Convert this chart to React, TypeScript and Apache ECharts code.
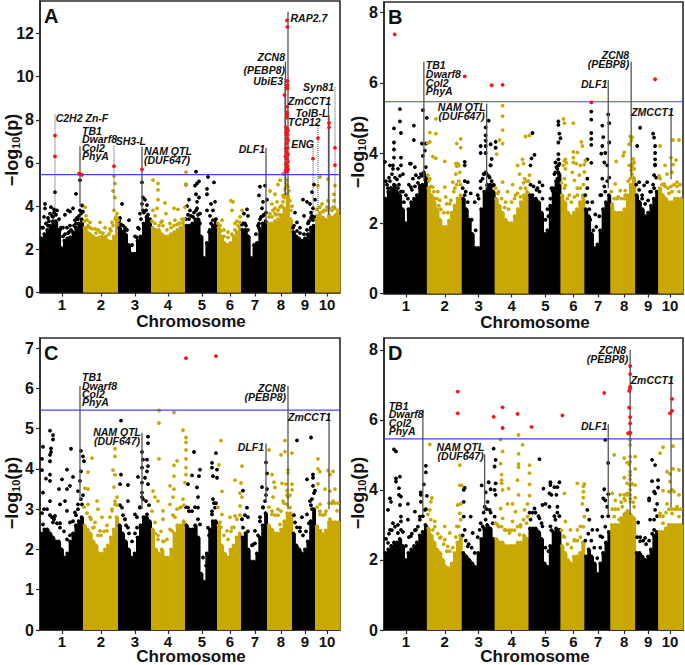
import React, { useEffect, useRef } from "react";
import * as echarts from "echarts";

const FONT = "'Liberation Sans', Arial, sans-serif";
const BLACK = "#000000";
const GOLD = "#c9a804";
const RED = "#ff1010";
const BLUE = "#3a3af0";

const chromBounds = [0, 43, 78, 111, 145, 177, 201, 227, 252, 275, 299.5];
const chromTicks = [22, 61, 95, 128, 162, 190, 215, 241, 265, 287];
const chromNames = ["1", "2", "3", "4", "5", "6", "7", "8", "9", "10"];
const threshold = 5.46;

// solid part of the cloud of points, per chromosome
const massA = [
  [2.5, 2.7, 2.9, 3.1, 3.3, 3.3, 2.9, 2.05, 2.4, 2.5, 2.55, 2.8, 3.0, 3.2, 3.4],
  [3.0, 2.8, 2.7, 2.6, 2.5, 2.55, 2.6, 2.5, 2.4, 2.35, 2.6, 3.3],
  [3.0, 2.8, 2.7, 2.2, 1.8, 1.8, 2.4, 2.6, 3.2, 3.5, 3.2],
  [3.0, 2.9, 2.9, 2.7, 2.6, 2.6, 2.7, 2.8, 2.9, 3.0, 3.1],
  [3.1, 3.1, 3.2, 3.4, 3.4, 2.6, 1.6, 2.3, 2.9, 3.1, 3.2],
  [3.0, 2.6, 2.3, 2.2, 2.3, 2.6, 2.8, 3.0],
  [2.9, 2.9, 2.6, 1.6, 2.2, 2.3, 2.9, 3.2, 3.3],
  [3.2, 3.2, 3.3, 3.4, 3.6, 3.9, 4.5, 3.4],
  [2.8, 2.6, 2.5, 2.4, 2.5, 2.7, 3.0, 3.1],
  [3.6, 3.6, 3.5, 3.4, 3.6, 3.5, 3.6, 3.6],
];
const massB = [
  [2.7, 2.9, 3.0, 3.1, 2.9, 2.8, 2.4, 2.0, 2.4, 2.6, 2.7, 2.8, 3.0, 3.1, 3.3],
  [3.0, 2.8, 2.6, 2.4, 2.1, 1.9, 1.9, 2.1, 2.3, 2.5, 2.7, 2.8],
  [2.7, 2.4, 2.1, 1.7, 1.3, 1.3, 2.4, 2.9, 3.1, 3.1, 2.9],
  [2.7, 2.5, 2.3, 2.1, 2.0, 2.0, 2.2, 2.4, 2.6, 2.8, 2.9],
  [2.8, 2.7, 2.7, 2.6, 2.3, 1.7, 1.8, 2.5, 3.0, 3.2, 3.4],
  [2.8, 2.6, 2.3, 2.2, 2.3, 2.4, 2.6, 2.8],
  [2.4, 2.2, 1.7, 1.3, 1.4, 1.8, 2.4, 2.6, 2.8],
  [2.5, 2.3, 2.3, 2.3, 2.4, 2.8, 3.1, 3.3],
  [2.8, 2.6, 2.4, 2.2, 2.3, 2.5, 2.7, 2.9],
  [3.0, 2.8, 2.7, 2.6, 2.6, 2.7, 2.7, 2.7],
];
const massC = [
  [2.4, 2.5, 2.5, 2.4, 2.3, 2.2, 2.2, 2.0, 1.8, 1.9, 2.2, 2.4, 2.6, 2.7, 2.8],
  [2.6, 2.5, 2.4, 2.2, 2.1, 1.9, 1.9, 2.0, 2.1, 2.3, 2.5, 2.8],
  [2.6, 2.4, 2.2, 2.0, 1.8, 1.9, 2.3, 2.6, 2.8, 2.8, 2.7],
  [2.5, 2.0, 1.9, 2.0, 1.8, 1.8, 2.0, 2.4, 2.6, 2.6, 2.7],
  [2.6, 2.5, 2.5, 2.6, 2.3, 1.4, 1.2, 1.9, 2.5, 2.7, 2.7],
  [2.6, 2.1, 1.9, 1.8, 2.0, 2.1, 2.3, 2.4],
  [2.3, 2.4, 2.0, 1.7, 1.7, 1.9, 2.3, 2.6, 2.9],
  [2.6, 2.5, 2.4, 2.4, 2.5, 2.7, 2.9, 2.9],
  [2.4, 2.1, 2.0, 1.9, 2.0, 2.2, 2.7, 3.0],
  [2.6, 2.5, 2.4, 2.5, 2.7, 2.7, 2.7, 2.7],
];
const massD = [
  [2.2, 2.3, 2.4, 2.5, 2.5, 2.6, 2.4, 2.0, 2.2, 2.3, 2.4, 2.5, 2.7, 2.8, 3.0],
  [2.9, 2.7, 2.5, 2.3, 2.2, 2.0, 1.8, 1.8, 1.9, 2.2, 2.5, 2.7],
  [2.2, 2.1, 2.0, 1.9, 1.8, 2.2, 2.6, 2.9, 3.0, 2.9, 2.6],
  [2.6, 2.5, 2.5, 2.4, 2.4, 2.4, 2.4, 2.5, 2.5, 2.7, 2.6],
  [2.9, 2.9, 2.9, 2.8, 2.6, 1.9, 1.8, 2.4, 2.8, 2.9, 2.8],
  [2.4, 2.2, 2.0, 1.9, 2.1, 2.1, 2.2, 2.5],
  [2.1, 2.3, 2.1, 1.9, 1.6, 1.9, 2.2, 2.5, 2.8],
  [3.0, 3.0, 3.0, 3.2, 3.3, 3.4, 3.3, 3.2],
  [2.2, 2.2, 2.1, 2.0, 2.1, 2.3, 2.7, 2.8],
  [2.8, 2.8, 2.9, 3.0, 3.0, 3.0, 3.0, 3.0],
];

const blackA = [
  [5, 4.1], [5, 3.9], [4, 3.5], [11, 3.95], [14, 3.85], [17, 3.8], [15, 4.65], [36, 4.57], [25, 3.6], [28, 3.8], [33, 3.9], [30, 3.75], [42, 4.03], [40, 5.2], [23, 3.0], [27, 3], [30, 3.1], [35, 3.35], [38, 3.4], [25, 2.7], [28, 2.75], [40, 3.8], [10, 3.65], [13, 3.5], [3, 3.0], [8, 3.1], [20, 2.9],
  [82, 4.1], [80, 3.45], [89, 3.35], [103, 4.4], [102, 5.1], [105, 4.3], [102, 4.1], [107, 4.05], [100, 3.65], [103, 3.8], [107, 3.5], [98, 3.0], [85, 3.0], [97, 2.55], [87, 2.9], [84, 2.85], [109, 3.3],
  [146, 5], [156, 5.6], [155, 4.95], [159, 5.15], [157, 5.05], [168, 5.35], [174, 5.1], [167, 4.8], [167, 4.55], [156, 4.55], [159, 4.4], [149, 4.3], [147, 4], [150, 3.8], [157, 4.2], [157, 3.9], [160, 3.65], [167, 3.8], [175, 4.2], [171, 4.1], [173, 3.8], [170, 3.55], [175, 3.35], [153, 3.5],
  [225, 4.95], [220, 4.9], [219, 4.5], [227, 4.3], [223, 4.2], [207, 3.85], [204, 3.65], [208, 3.55], [222, 3.9], [223, 3.55], [203, 3.2], [220, 3.4], [206, 3.1], [219, 3.0],
  [255, 3.7], [263, 4.3], [267, 4.2], [274, 5], [272, 4.65], [275, 4.3], [270, 4.1], [273, 3.9], [272, 3.55], [273, 3.35], [264, 3.55], [257, 3.25], [268, 3.2], [260, 3], [271, 3.7], [253, 3.0],
];
const fringeBlackA = [
  [2, 3.0], [6, 3.2], [9, 3.3], [12, 3.55], [16, 3.6], [19, 3.4], [21, 3.0], [23, 2.6], [31, 2.9], [34, 3.1], [36, 3.2], [39, 3.55], [41, 3.65], [43, 3.75], [8, 3.45], [14, 3.7], [29, 2.8], [37, 3.45],
  [79, 3.3], [81, 3.15], [83, 3.1], [86, 2.9], [92, 2.2], [95, 2.6], [99, 2.95], [101, 3.4], [104, 3.7], [106, 3.8], [108, 3.6], [110, 3.4],
  [146, 3.4], [148, 3.6], [151, 3.55], [154, 3.7], [156, 3.8], [158, 3.6], [160, 3.2], [169, 2.8], [171, 3.2], [173, 3.35], [176, 3.4], [149, 3.4],
  [202, 3.15], [205, 3.2], [208, 2.9], [216, 2.7], [219, 3.2], [221, 3.5], [224, 3.6], [226, 3.7], [218, 3.1],
  [254, 3.1], [257, 2.85], [260, 2.75], [264, 2.7], [267, 2.9], [269, 3.3], [271, 3.45], [274, 3.5],
];
const goldA = [
  [45, 3.95], [46, 3.55], [47, 3.35], [50, 3.25], [60, 3.25], [65, 3], [55, 2.95], [74, 5.4], [75, 5.05], [73, 4.7], [75, 4.4], [74, 3.8], [77, 3.65], [75, 3.4], [72, 3.25], [78, 3.35], [50, 3.0], [70, 2.95],
  [113, 5.2], [118, 5.05], [118, 4.75], [113, 3.8], [118, 4.3], [117, 3.9], [125, 4.15], [115, 3.55], [134, 3.9], [138, 3.85], [146, 5.57], [146, 5], [145, 3.95], [126, 3.65], [130, 3.2], [135, 3.35], [142, 3.4], [122, 3.3], [139, 3.2],
  [191, 4.25], [193, 4.2], [192, 3.8], [202, 3.8], [182, 3.35], [180, 3.1], [195, 3.2], [200, 3.5], [184, 2.9], [188, 2.8], [197, 3.3],
  [230, 4.7], [235, 4.55], [240, 5.2], [238, 5], [232, 4.1], [237, 4.2], [243, 4.5], [247, 5.2], [247, 4.55], [248, 4.9], [250, 4.25], [252, 4], [233, 3.8], [240, 3.95], [230, 3.65], [243, 5.5], [246, 5.6], [235, 3.9], [242, 4.0], [236, 3.6],
  [280, 5.35], [278, 4.95], [288, 5.25], [295, 4.95], [294, 4.55], [294, 4.25], [288, 4.25], [287, 3.95], [282, 4.1], [293, 3.95], [297, 3.65], [280, 3.7], [284, 3.8],
];
const fringeGoldA = [
  [44, 3.3], [48, 3.1], [52, 2.95], [56, 2.75], [60, 2.8], [63, 2.75], [66, 2.6], [69, 2.7], [71, 2.85], [73, 3.1], [76, 3.5], [77, 3.3], [47, 3.0], [58, 2.9],
  [112, 3.3], [115, 3.2], [119, 3.1], [123, 3.1], [127, 2.9], [131, 3.0], [134, 3.1], [137, 3.15], [140, 3.2], [143, 3.25], [144, 3.4], [121, 3.25],
  [178, 3.2], [181, 2.85], [184, 2.6], [188, 2.55], [192, 2.7], [195, 2.9], [198, 3.1], [200, 3.25],
  [229, 3.5], [232, 3.5], [235, 3.65], [238, 3.8], [241, 4.0], [243, 4.2], [245, 4.8], [247, 5.0], [249, 4.7], [251, 3.8], [239, 3.6], [244, 4.4],
  [277, 3.85], [280, 3.95], [283, 3.75], [286, 3.8], [289, 3.9], [292, 3.8], [295, 3.9], [298, 3.8],
];
const redA = [
  [15, 7.27], [15, 6.3], [247, 12.6], [247.5, 12.3], [247.5, 9.8], [247.5, 9.6], [247.5, 9.45], [244.5, 9.15], [247, 8.6], [247, 8.35], [247, 8.25], [247, 8.1],
  [246, 7.65], [247, 7.6], [248, 7.5], [246, 7.4], [247.5, 7.3], [247, 7.15], [248, 7.05], [246.5, 6.9], [246, 6.65], [247.5, 6.7], [246.5, 6.5], [248, 6.4], [245.5, 6.3], [247, 6.2], [248, 6.05], [246, 5.95], [247.5, 5.85], [246.5, 5.75], [248, 5.7], [245.5, 5.62], [247, 5.6],
  [39, 5.5], [42, 5.45], [41, 5.47], [74, 5.85], [102, 5.7], [273, 6.2], [278, 7.15], [289, 7.85], [289, 7.65], [295, 6.7], [295, 5.9],
];

const blackB = [
  [16, 5.25], [16, 4.9], [10, 4.7], [17, 4.57], [30, 4.78], [30, 4.37], [39, 5.22], [43, 5], [10, 4.3], [10, 4.1], [10, 3.87], [17, 3.87], [1, 3.75], [6, 3.65], [27, 3.7], [31, 3.6], [38, 4.27], [42, 4.27], [41, 4.07], [39, 3.92], [9, 3.65], [17, 3.65],
  [2, 3.2], [6, 3.2], [9, 3.55], [14, 3.55], [16, 3.35], [19, 3.4], [26, 3.7], [29, 3.27], [32, 3.37], [37, 3.4], [41, 3.37], [4, 3], [11, 3.07], [14, 3], [27, 3.03], [36, 3.07], [22, 2.8], [12, 2.7], [19, 2.9],
  [105, 4.92], [102, 4.73], [102, 4.5], [102, 4.35], [97, 4.2], [102, 4.2], [112, 4.32], [107, 4.25], [112, 4.15], [97, 4], [102, 4], [108, 3.83], [107, 3.65], [81, 3.75], [81, 3.65],
  [81, 3.2], [84, 3.17], [87, 2.85], [91, 2.6], [82, 2.9], [102, 3.45], [106, 3.3], [107, 3.65], [99, 3.27], [97, 3], [94, 2.8], [110, 3.08],
  [149, 4.57], [151, 3.95], [148, 3.85], [147, 3.65], [175, 4.9], [175, 4.8], [176, 4.55], [177, 4.42], [175, 4.3], [175, 3.97], [175, 3.82], [172, 3.73], [175, 3.65],
  [156, 3.17], [159, 3.08], [154, 3], [169, 2.93], [174, 3.27], [174, 3.55], [172, 3.45], [149, 2.8], [164, 2.4], [167, 2.7],
  [208, 5.18], [208, 4.95], [208, 4.57], [208, 4.4], [208, 4.23], [204, 3.82], [219, 4.78], [220, 4.45], [225, 5.1], [226, 4.85], [226, 4.3], [219, 4.2], [222, 4], [218, 3.98], [208, 3.72], [221, 3.73],
  [204, 3.27], [204, 3], [209, 2.6], [217, 2.8], [219, 3.27], [224, 3.65], [222, 2.9], [212, 2.25], [206, 2.4],
  [257, 4.72], [254, 4.2], [270, 4.55], [271, 4.44], [272, 4.2], [272, 4], [272, 3.82], [272, 3.67],
  [256, 3.17], [261, 3.08], [264, 3.17], [271, 3.37], [272, 3.65], [259, 2.8], [267, 2.9], [256, 2.6], [271, 3],
];
const fringeBlackB = [
  [3, 3.1], [5, 3.3], [8, 3.4], [11, 3.3], [13, 3.25], [17, 2.9], [20, 2.6], [24, 2.7], [28, 2.95], [31, 3.05], [34, 3.15], [38, 3.35], [40, 3.45], [42, 3.6], [7, 3.0], [15, 3.1], [35, 3.3], [25, 3.1],
  [79, 3.0], [81, 2.8], [84, 2.6], [88, 2.1], [92, 1.8], [95, 2.7], [97, 3.2], [100, 3.4], [103, 3.4], [105, 3.35], [108, 3.2], [110, 3.1],
  [147, 3.1], [150, 3.05], [153, 2.95], [156, 2.9], [159, 2.7], [162, 2.1], [165, 2.2], [168, 3.0], [171, 3.4], [173, 3.6], [176, 3.7], [175, 3.45],
  [202, 2.8], [204, 2.6], [207, 2.1], [210, 1.8], [213, 1.9], [216, 2.2], [218, 2.8], [221, 3.05], [224, 3.2], [226, 3.3],
  [253, 3.1], [256, 2.95], [259, 2.7], [262, 2.55], [265, 2.65], [268, 2.9], [270, 3.1], [273, 3.3],
];
const goldB = [
  [52, 4.97], [46, 4.58], [52, 4.55], [46, 4.32], [44, 4.28], [49, 3.9], [52, 3.85], [61, 3.76], [77, 4.4], [73, 4.27], [77, 4.15], [72, 3.7], [73, 3.62], [75, 3.65],
  [46, 3.27], [49, 3.03], [54, 2.9], [61, 3.03], [69, 3.17], [72, 3.4], [74, 3.7], [76, 3.45], [62, 2.75], [56, 2.65], [66, 2.55], [51, 2.7], [71, 3], [44, 3.37],
  [119, 5.35], [119, 5.05], [119, 4.65], [116, 4.37], [119, 4.27], [113, 3.97], [142, 4.47], [146, 4.5], [139, 3.82], [140, 3.7], [134, 3.65],
  [119, 3.17], [115, 2.9], [129, 3.1], [136, 3.4], [146, 3.37], [124, 2.9], [132, 2.8], [141, 3.27], [142, 3], [122, 2.6], [137, 2.75],
  [180, 4.97], [181, 4.85], [190, 4.85], [198, 4.32], [199, 4.2], [190, 4.03], [194, 4.02], [190, 3.87], [182, 3.82], [181, 3.78], [190, 3.73], [193, 3.7], [201, 3.67], [202, 3.78], [183, 3.72], [180, 3.65],
  [182, 3.08], [189, 3.45], [191, 3.22], [196, 3.37], [201, 3.46], [194, 3], [186, 2.8], [181, 3.27], [197, 3.65], [182, 3.55],
  [233, 3.76], [241, 4.02], [240, 3.92], [247, 4.47], [249, 4.45], [246, 4.25], [248, 4.35], [250, 3.83], [251, 3.73], [246, 3.65], [248, 3.65], [249, 3.6],
  [232, 3.12], [237, 2.93], [242, 2.93], [247, 3.27], [251, 3.55], [249, 3.4], [234, 2.7], [241, 2.7], [229, 2.55],
  [277, 4.2], [290, 4.37], [296, 4.37], [288, 3.87], [293, 3.8], [282, 3.65], [290, 3.67],
  [277, 3.27], [281, 3.12], [289, 2.9], [286, 2.85], [296, 2.9], [294, 3.17], [277, 2.9], [284, 3.4], [289, 3.45],
];
const fringeGoldB = [
  [45, 3.2], [47, 3.05], [50, 2.9], [53, 2.7], [57, 2.4], [60, 2.3], [64, 2.3], [67, 2.65], [70, 2.9], [73, 3.1], [75, 3.2], [77, 3.1], [55, 2.5], [63, 2.55],
  [112, 3.0], [114, 2.85], [118, 2.7], [121, 2.45], [125, 2.4], [128, 2.6], [131, 2.7], [134, 2.85], [137, 3.0], [140, 3.15], [143, 3.2], [145, 3.2],
  [178, 3.15], [181, 3.0], [184, 2.7], [188, 2.6], [191, 2.75], [194, 2.8], [197, 3.0], [200, 3.1],
  [228, 2.9], [231, 2.7], [235, 2.75], [238, 2.7], [242, 2.8], [245, 3.2], [248, 3.5], [250, 3.7],
  [276, 3.35], [279, 3.1], [282, 3.05], [285, 3.0], [288, 3.05], [291, 3.1], [294, 3.05], [297, 3.1],
];
const redB = [[10.7, 7.38], [81, 6.18], [108, 5.93], [119, 5.94], [208, 5.44], [272, 6.1]];

const blackC = [
  [3, 4.55], [2, 4.25], [2, 3.97], [10, 4.95], [13, 4.84], [13, 4.73], [11, 4.51], [11, 4.42], [10, 4.35], [10, 4.19], [10, 3.86], [6, 3.76], [10, 3.7], [22, 3.74], [27, 3.98], [31, 4.5], [33, 3.8], [41, 4.45], [43, 4.31], [44, 4.19], [41, 3.94], [40, 3.7], [30, 3.58], [19, 3.5], [3, 3.41], [27, 3.5], [38, 3.45],
  [3, 2.62], [10, 3.2], [12, 2.8], [15, 2.83], [13, 2.67], [20, 3.12], [25, 3.2], [27, 2.96], [30, 2.67], [35, 2.92], [38, 3.12], [42, 3.12], [20, 2.54],
  [81, 5.2], [81, 3.86], [80, 3.62], [88, 3.6], [108, 4.8], [108, 4.64], [102, 4.42], [103, 4.23], [107, 4.23], [108, 4.07], [102, 4.03], [107, 3.94], [98, 3.8], [105, 3.78], [102, 3.66], [108, 3.62], [102, 3.41],
  [82, 3.04], [88, 3.2], [85, 2.75], [88, 2.54], [95, 2.87], [100, 3.04], [102, 3.3], [107, 2.87], [97, 2.54],
  [154, 4.42], [148, 3.62], [152, 3.84], [159, 3.82], [160, 3.98], [157, 3.54], [176, 4.39], [172, 4.15], [177, 3.98], [173, 3.82], [177, 3.78], [172, 4.03],
  [158, 3.3], [148, 3.04], [158, 3.04], [173, 3.25], [172, 2.87], [168, 2.54], [160, 2.62], [175, 3.04],
  [203, 3.46], [226, 4.16], [227, 3.89], [222, 3.55], [227, 3.5],
  [207, 3.04], [208, 2.8], [203, 2.54], [215, 2.46], [223, 3.04], [225, 3.2], [220, 2.8], [213, 2.12],
  [257, 4.71], [271, 4.78], [267, 3.74], [273, 3.86], [273, 3.78], [273, 3.58], [275, 3.46],
  [255, 2.67], [262, 2.8], [270, 3.2], [272, 3.25], [267, 2.87], [260, 2.54], [272, 3],
];
const fringeBlackC = [
  [2, 2.9], [4, 3.0], [7, 3.0], [10, 2.85], [14, 2.75], [17, 2.65], [20, 2.65], [24, 2.45], [27, 2.25], [30, 2.35], [33, 2.7], [36, 2.85], [38, 3.0], [41, 3.25], [43, 3.35],
  [80, 3.1], [83, 2.85], [86, 2.6], [89, 2.4], [92, 2.2], [95, 2.4], [97, 2.8], [100, 3.05], [103, 3.25], [106, 3.2], [109, 3.1],
  [146, 3.05], [149, 2.95], [152, 2.95], [155, 3.05], [158, 2.75], [163, 1.8], [166, 1.6], [169, 2.35], [172, 2.95], [174, 3.15], [176, 3.15],
  [202, 2.75], [205, 2.85], [208, 2.45], [212, 2.1], [215, 2.15], [218, 2.35], [220, 2.7], [223, 3.05], [226, 3.35],
  [254, 2.85], [257, 2.55], [260, 2.45], [263, 2.35], [266, 2.45], [269, 2.65], [271, 3.1], [274, 3.4],
];
const goldC = [
  [52, 4.27], [48, 3.92], [45, 3.52], [75, 4.5], [75, 4.31], [73, 3.97], [75, 3.85], [74, 3.55], [48, 3.5],
  [48, 3.12], [57, 3.2], [58, 3], [50, 2.8], [55, 2.67], [62, 2.8], [72, 2.96], [75, 3.12], [77, 3.3], [60, 2.46], [67, 2.46], [53, 2.54],
  [119, 5.45], [119, 5.14], [119, 4.25], [134, 5.4], [143, 4.96], [146, 4.78], [146, 4.66], [146, 4.47], [146, 4.25], [146, 4.03], [137, 4.2], [134, 4.09], [134, 3.82], [146, 3.86], [145, 3.66], [130, 3.58], [134, 3.5], [113, 3.45],
  [115, 3.3], [118, 3.2], [123, 2.75], [115, 2.67], [118, 2.25], [123, 2.2], [135, 2.8], [130, 3.12], [140, 3.04], [143, 3.25], [133, 3.3], [123, 2.96], [132, 2.46],
  [181, 4.7], [179, 4.1], [202, 4.07], [195, 3.72], [201, 3.65], [182, 3.44], [200, 3.4],
  [190, 2.8], [195, 2.83], [200, 3.08], [180, 2.67], [202, 3.3], [192, 2.54], [182, 2.87], [187, 2.46],
  [229, 4.47], [245, 4.7], [245, 4.43], [252, 4.39], [241, 4.35], [248, 3.98], [248, 3.9], [232, 3.86], [234, 3.67], [242, 3.64], [246, 3.62], [252, 3.62], [235, 3.54], [247, 3.46], [252, 3.48],
  [233, 3.3], [243, 3.2], [232, 2.87], [238, 3], [247, 3.12], [250, 3.04], [240, 2.62], [248, 3.3],
  [278, 4.25], [278, 4.0], [280, 3.93], [288, 3.96], [293, 3.94], [290, 3.86], [278, 3.63], [285, 3.5], [295, 3.5], [290, 3.45],
  [280, 3.12], [285, 2.87], [293, 3.2], [297, 2.96], [290, 2.75], [280, 2.87], [295, 2.62],
];
const fringeGoldC = [
  [44, 3.05], [47, 2.9], [51, 2.75], [54, 2.55], [58, 2.35], [61, 2.35], [64, 2.45], [67, 2.6], [70, 2.8], [72, 3], [75, 3.2], [77, 3.1],
  [112, 2.95], [115, 2.4], [118, 2.35], [121, 2.45], [124, 2.2], [127, 2.25], [130, 2.5], [133, 2.85], [137, 3.0], [141, 3.05], [144, 3.1],
  [178, 3.05], [181, 2.55], [184, 2.35], [188, 2.25], [191, 2.45], [194, 2.55], [197, 2.75], [200, 2.85],
  [229, 3.05], [232, 2.95], [235, 2.85], [238, 2.85], [241, 2.95], [244, 3.15], [247, 3.35], [250, 3.35],
  [277, 3.05], [280, 2.95], [283, 2.85], [286, 2.95], [289, 3.15], [292, 3.15], [295, 3.15], [298, 3.15],
];
const redC = [[146, 6.75], [176, 6.8]];

const blackD = [
  [10, 5.16], [12, 5.1], [12, 4.33], [16, 4.38], [12, 4.24], [15, 4.05], [15, 3.86], [6, 3.76], [42, 4.69], [42, 4.5], [40, 4.16], [37, 3.93], [37, 3.86], [43, 3.83], [17, 3.81],
  [4, 3.43], [7, 3.66], [16, 3.57], [17, 3.24], [6, 2.86], [9, 3.05], [14, 2.77], [17, 2.86], [24, 3.15], [24, 3.6], [31, 3.38], [36, 3.24], [37, 3.66], [41, 3.43], [32, 2.86], [27, 2.68], [4, 2.49],
  [80, 4], [81, 4.06], [110, 5.18], [112, 4.86], [111, 4.67], [105, 4.22], [112, 4.19], [98, 4.13], [102, 3.93], [107, 4.02], [111, 4], [112, 3.86],
  [80, 3.66], [80, 3.24], [87, 3.24], [96, 2.86], [81, 2.86], [89, 2.77], [101, 3.52], [104, 3.66], [106, 3.43], [111, 3.24], [102, 3.15], [99, 2.96], [84, 2.39],
  [156, 4.88], [160, 4.04], [166, 3.9], [167, 4.22], [167, 4.14], [171, 4.08], [174, 4.08], [176, 4.22], [173, 3.86], [168, 3.86],
  [151, 3.47], [159, 3.57], [156, 3.19], [147, 3.15], [159, 2.96], [152, 2.86], [174, 3.52], [172, 3.15], [176, 2.86], [167, 2.96], [166, 3.52], [162, 3.6],
  [222, 5.43], [225, 4.77], [221, 4.02], [225, 3.88], [220, 3.76],
  [204, 3.43], [206, 3.15], [214, 2.86], [219, 3.24], [222, 3.7], [224, 3.52], [217, 2.68], [209, 2.86],
  [269, 4.86], [272, 4.71], [269, 4.25], [275, 4.28], [275, 4.07], [271, 3.95], [272, 3.9], [266, 3.76],
  [255, 3.07], [266, 3.7], [272, 3.43], [267, 3.15], [274, 3.6], [262, 2.63], [257, 2.54], [271, 2.86],
];
const fringeBlackD = [
  [2, 2.6], [5, 2.75], [8, 2.85], [11, 2.95], [14, 3.0], [17, 3.1], [19, 2.8], [22, 2.4], [25, 2.65], [28, 2.75], [31, 2.85], [34, 2.95], [36, 3.15], [39, 3.25], [42, 3.45],
  [79, 2.7], [82, 2.55], [85, 2.45], [88, 2.35], [91, 2.2], [94, 2.65], [97, 3.05], [100, 3.35], [103, 3.45], [107, 3.35], [109, 3.05],
  [146, 3.35], [149, 3.35], [152, 3.35], [155, 3.25], [158, 3.05], [162, 2.35], [165, 2.25], [168, 2.85], [171, 3.25], [174, 3.35], [176, 3.25],
  [202, 2.55], [205, 2.75], [208, 2.55], [211, 2.35], [214, 2.05], [217, 2.35], [219, 2.65], [222, 2.95], [225, 3.25],
  [254, 2.65], [257, 2.65], [260, 2.55], [263, 2.45], [266, 2.55], [269, 2.75], [271, 3.15], [274, 3.25],
];
const goldD = [
  [46, 5.3], [48, 3.77], [76, 4.71], [76, 4.13], [78, 4.13],
  [47, 3.66], [46, 3.43], [51, 3.1], [49, 2.86], [61, 2.96], [66, 2.77], [61, 2.58], [64, 2.39], [76, 3.33], [74, 3.57], [77, 3.6], [73, 2.96], [56, 2.63],
  [117, 5.44], [119, 5.1], [117, 4.75], [118, 4.44], [118, 4.28], [118, 4.19], [135, 5.57], [139, 5.29], [135, 5.03], [135, 4.74], [135, 4.65], [146, 4.71], [146, 4.48], [146, 4.16], [134, 4.28], [135, 3.86], [125, 4.04], [146, 3.84], [119, 4],
  [117, 3.47], [119, 3.19], [124, 3.6], [129, 3.6], [132, 3.38], [141, 3.43], [144, 3.24], [137, 3], [129, 3.1], [121, 2.86], [126, 2.77], [114, 3], [136, 2.72], [144, 3.6],
  [181, 3.9], [194, 4.19], [201, 4.17], [200, 4.1], [200, 3.95], [200, 3.78],
  [182, 3.1], [187, 2.86], [194, 2.86], [197, 2.96], [199, 3.6], [201, 3.24], [180, 2.68], [191, 2.58],
  [231, 5], [241, 4.91], [247, 4.95], [252, 4.95], [244, 4.78], [246, 4.73], [252, 4.6], [247, 4.52], [247, 4.42], [247, 4.3], [241, 4.35], [244, 4.19], [247, 4.14], [249, 4.17], [252, 4.14], [229, 3.9], [237, 3.86], [241, 3.86], [244, 3.9], [247, 4], [247, 3.86], [252, 3.78], [247, 5.43], [247, 5.29], [247, 5.6], [247, 4.8],
  [232, 3.7], [239, 3.52], [251, 3.52], [231, 3.24], [242, 3.33], [236, 3.15], [247, 3.66], [242, 3.7],
  [280, 5.22], [290, 5.25], [277, 5.05], [290, 4.6], [284, 4.52], [287, 4.46], [296, 4.57], [289, 4], [280, 3.98], [291, 3.95], [286, 3.95], [287, 4.24], [296, 3.86],
  [277, 3.33], [284, 3.6], [289, 3.33], [294, 3.52], [280, 3.05], [296, 3.24],
];
const fringeGoldD = [
  [44, 3.3], [47, 3.15], [51, 2.95], [54, 2.75], [57, 2.65], [60, 2.45], [63, 2.25], [66, 2.25], [69, 2.35], [72, 2.65], [75, 2.95], [77, 3.15],
  [112, 3.05], [115, 2.95], [118, 2.95], [122, 2.85], [125, 2.85], [128, 2.85], [131, 2.85], [134, 2.95], [137, 2.95], [140, 3.15], [143, 3.05],
  [178, 2.85], [181, 2.65], [184, 2.45], [188, 2.35], [191, 2.55], [194, 2.55], [197, 2.65], [200, 2.95],
  [229, 3.45], [232, 3.45], [235, 3.45], [238, 3.65], [241, 3.75], [244, 3.85], [247, 3.75], [250, 3.65],
  [277, 3.25], [280, 3.25], [283, 3.35], [286, 3.45], [289, 3.45], [292, 3.45], [295, 3.45], [298, 3.45],
];
const redD = [
  [74, 6.81], [74, 6.19], [110, 6.09], [119, 6.36], [119, 5.77], [134, 6.17], [148, 5.8], [179, 6.13], [221, 6.77], [247, 7.54], [247, 7.31], [247, 6.95], [247, 6.9], [246, 6.83], [246, 6.35], [247, 6.08], [247, 5.9], [247, 5.64], [245, 5.62], [289, 6.6], [289, 6.26], [287, 6.19],
];

// [x, top, bottom, dotted]
const linesA: number[][] = [
  [15, 8.25, 3.9, 1], [40, 6.77, 4, 0], [74, 6.8, 3.8, 1], [102, 6.75, 3.8, 0], [226, 6.7, 3.2, 0], [245.5, 10.7, 4.5, 0], [244.5, 9.9, 4.5, 1], [248, 13, 4.5, 0], [288.5, 8.85, 3.6, 0], [289.5, 8.2, 3.6, 1], [278, 7.8, 3.7, 1], [273, 6.75, 3.7, 1], [295, 9.5, 3.9, 1],
];
const linesB: number[][] = [[40, 6.6, 3.2, 0], [103, 5.4, 3.0, 0], [225, 6.08, 3, 0], [248, 6.6, 3.3, 0], [288, 5.2, 3.25, 0]];
const linesC: number[][] = [[40, 6.06, 3.2, 0], [102, 4.9, 3, 0], [226, 4.63, 3.2, 0], [248, 6.06, 3.0, 0], [289, 5.37, 3.0, 0]];
const linesD: number[][] = [[39, 6.29, 3.3, 0], [101, 5.02, 3.4, 0], [225, 5.88, 3.3, 0], [247, 8, 3.3, 0], [288, 7.24, 3.5, 0]];

// [text, x, y, anchor]
const labelsA: any[][] = [
  ["C2H2 Zn-F", 15.7, 8.1, "left"], ["TB1", 42, 7.47, "left"], ["Dwarf8", 42, 7.1, "left"], ["Col2", 42, 6.7, "left"], ["PhyA", 42, 6.33, "left"], ["SH3-L", 75.7, 7.0, "left"],
  ["NAM QTL", 104, 6.55, "left"], ["(DUF647)", 104, 6.14, "left"], ["DLF1", 225, 6.65, "right"], ["ZCN8", 245, 10.9, "right"], ["(PEBP8)", 245, 10.3, "right"], ["UbiE3", 243, 9.8, "right"], ["RAP2.7", 250.5, 12.7, "left"], ["Syn81", 294, 9.5, "right"], ["ZmCCT1", 248, 8.85, "left"], ["TolB-L", 255.5, 8.3, "left"], ["TCP12", 248, 7.9, "left"], ["ENG", 274, 6.9, "right"],
];
const labelsB: any[][] = [
  ["TB1", 42, 6.51, "left"], ["Dwarf8", 42, 6.25, "left"], ["Col2", 42, 6.0, "left"], ["PhyA", 42, 5.77, "left"], ["NAM QTL", 102, 5.32, "right"], ["(DUF647)", 101, 5.04, "right"], ["DLF1", 224, 5.96, "right"], ["ZCN8", 246, 6.8, "right"], ["(PEBP8)", 246, 6.53, "right"], ["ZMCCT1", 248, 5.16, "left"],
];
const labelsC: any[][] = [
  ["TB1", 42, 6.28, "left"], ["Dwarf8", 42, 6.06, "left"], ["Col2", 42, 5.85, "left"], ["PhyA", 42, 5.65, "left"], ["NAM QTL", 101, 4.92, "right"], ["(DUF647)", 100, 4.69, "right"], ["DLF1", 224, 4.55, "right"], ["ZCN8", 245.5, 6.0, "right"], ["(PEBP8)", 246, 5.78, "right"], ["ZmCCT1", 248, 5.29, "left"],
];
const labelsD: any[][] = [
  ["TB1", 4.7, 6.4, "left"], ["Dwarf8", 4.7, 6.16, "left"], ["Col2", 4.7, 5.92, "left"], ["PhyA", 4.7, 5.69, "left"], ["NAM QTL", 100.7, 5.23, "right"], ["(DUF647)", 100, 4.96, "right"], ["DLF1", 224, 5.83, "right"], ["ZCN8", 243, 8.0, "right"], ["(PEBP8)", 245, 7.73, "right"], ["ZmCCT1", 247.5, 7.14, "left"],
];

const panels = [
  { letter: "A", rect: [40, 1, 300, 291.5], yMax: 13.5, yTicks: [0, 2, 4, 6, 8, 10, 12], mass: massA, black: [...blackA, ...fringeBlackA], gold: [...goldA, ...fringeGoldA], red: redA, lines: linesA, labels: labelsA, xTitle: [191, 321], yTitle: [12, 150] },
  { letter: "B", rect: [384, 2, 299, 291.5], yMax: 8.3, yTicks: [0, 2, 4, 6, 8], mass: massB, black: [...blackB, ...fringeBlackB], gold: [...goldB, ...fringeGoldB], red: redB, lines: linesB, labels: labelsB, xTitle: [535, 322], yTitle: [358, 152] },
  { letter: "C", rect: [40, 338, 300, 292], yMax: 7.25, yTicks: [0, 1, 2, 3, 4, 5, 6, 7], mass: massC, black: [...blackC, ...fringeBlackC], gold: [...goldC, ...fringeGoldC], red: redC, lines: linesC, labels: labelsC, xTitle: [191, 656], yTitle: [12, 493] },
  { letter: "D", rect: [384, 338, 299, 292], yMax: 8.34, yTicks: [0, 2, 4, 6, 8], mass: massD, black: [...blackD, ...fringeBlackD], gold: [...goldD, ...fringeGoldD], red: redD, lines: linesD, labels: labelsD, xTitle: [535, 656], yTitle: [358, 493] },
];

function buildOption() {
  const grid: any[] = [];
  const xAxis: any[] = [];
  const yAxis: any[] = [];
  const series: any[] = [];
  const graphic: any[] = [];

  panels.forEach((p, i) => {
    const [left, top, width, height] = p.rect;
    grid.push({ left, top, width, height, show: true, borderColor: "#2a2a2a", borderWidth: 1.6, backgroundColor: "transparent" });
    xAxis.push({
      type: "value", gridIndex: i, min: 0, max: 300, splitLine: { show: false },
      axisLine: { show: true, onZero: false, lineStyle: { color: "#2a2a2a", width: 1.6 } },
      axisTick: { show: true, customValues: chromTicks, length: 4, lineStyle: { color: "#2a2a2a", width: 1.2 } },
      axisLabel: {
        show: true, customValues: chromTicks, margin: 4, color: "#111", fontFamily: FONT, fontWeight: "bold", fontSize: 15,
        formatter: (v: number) => chromNames[chromTicks.indexOf(v)] ?? "",
      },
    });
    yAxis.push({
      type: "value", gridIndex: i, min: 0, max: p.yMax, splitLine: { show: false },
      axisLine: { show: true, onZero: false, lineStyle: { color: "#2a2a2a", width: 1.6 } },
      axisTick: { show: true, customValues: p.yTicks, length: 4, lineStyle: { color: "#2a2a2a", width: 1.2 } },
      axisLabel: { show: true, customValues: p.yTicks, margin: 6, color: "#111", fontFamily: FONT, fontWeight: "bold", fontSize: 16 },
    });

    // solid mass
    const massData: number[][] = [];
    p.mass.forEach((col, c) => {
      const w = (chromBounds[c + 1] - chromBounds[c]) / col.length;
      col.forEach((h, k) => massData.push([chromBounds[c] + k * w, chromBounds[c] + (k + 1) * w, h, c]));
    });
    series.push({
      type: "custom", xAxisIndex: i, yAxisIndex: i, z: 2, silent: true,
      encode: { x: [0, 1], y: 2 },
      data: massData,
      renderItem: (_: any, api: any) => {
        const x0 = api.value(0), x1 = api.value(1), h = api.value(2), c = api.value(3);
        const a = api.coord([x0, h]);
        const b = api.coord([x1, 0]);
        const fill = c % 2 === 0 ? BLACK : GOLD;
        return {
          type: "group",
          children: [
            { type: "rect", shape: { x: a[0], y: a[1], width: b[0] - a[0] + 1, height: b[1] - a[1] }, style: { fill } },
            { type: "circle", shape: { cx: (a[0] + b[0]) / 2, cy: a[1], r: 1.9 }, style: { fill } },
          ],
        };
      },
    });
    const dots = (data: number[][], color: string, z: number) => ({
      type: "scatter", xAxisIndex: i, yAxisIndex: i, data, symbol: "circle", symbolSize: 3.8, z, silent: true,
      itemStyle: { color, borderWidth: 0, opacity: 1 },
    });
    series.push(dots(p.black, BLACK, 3));
    series.push(dots(p.gold, GOLD, 3));

    // annotation lines, threshold and gene names
    series.push({
      type: "custom", xAxisIndex: i, yAxisIndex: i, z: 4, silent: true,
      encode: { x: 0, y: [1, 2] },
      data: p.lines,
      renderItem: (_: any, api: any) => {
        const a = api.coord([api.value(0), api.value(1)]);
        const b = api.coord([api.value(0), api.value(2)]);
        const dotted = api.value(3) === 1;
        return {
          type: "line", shape: { x1: a[0], y1: a[1], x2: b[0], y2: b[1] },
          style: { stroke: dotted ? "#444" : "#555", lineWidth: dotted ? 1 : 1.3, lineDash: dotted ? [1, 1] : undefined },
        };
      },
    });
    series.push({
      type: "line", xAxisIndex: i, yAxisIndex: i, z: 5, silent: true, symbol: "none",
      data: [[0, threshold], [300, threshold]],
      lineStyle: { color: BLUE, width: 1.2, opacity: 0.95 },
    });
    series.push(dots(p.red, RED, 6));
    series.push({
      type: "custom", xAxisIndex: i, yAxisIndex: i, z: 7, silent: true,
      encode: { x: 0, y: 1 },
      data: p.labels.map((l) => [l[1], l[2]]),
      renderItem: (params: any, api: any) => {
        const l = p.labels[params.dataIndex];
        const a = api.coord([api.value(0), api.value(1)]);
        return {
          type: "text", x: a[0], y: a[1],
          style: {
            text: l[0], fill: "#111", textAlign: l[3], textVerticalAlign: "middle",
            font: `italic bold 10.5px ${FONT}`,
          },
        };
      },
    });

    graphic.push({
      type: "text", left: left + 4, top: top + 5, z: 20,
      style: { text: p.letter, fill: "#111", font: `bold 20px ${FONT}` },
    });
    graphic.push({
      type: "text", x: p.xTitle[0], y: p.xTitle[1], z: 20,
      style: { text: "Chromosome", fill: "#111", font: `bold 17px ${FONT}`, textAlign: "center", textVerticalAlign: "middle" },
    });
    graphic.push({
      type: "text", x: p.yTitle[0], y: p.yTitle[1], rotation: Math.PI / 2, z: 20,
      style: {
        text: "{a|\u2212log}{b|10}{a|(p)}", textAlign: "center", textVerticalAlign: "middle",
        rich: {
          a: { fontFamily: FONT, fontWeight: "bold", fontSize: 18, fill: "#111", color: "#111" },
          b: { fontFamily: FONT, fontWeight: "bold", fontSize: 11, fill: "#111", color: "#111", verticalAlign: "bottom", padding: [8, 0, 0, 0] },
        },
      },
    });
  });

  return { animation: false, backgroundColor: "#fff", grid, xAxis, yAxis, series, graphic };
}

export default function App() {
  const ref = useRef<HTMLDivElement>(null);
  useEffect(() => {
    const chart = echarts.init(ref.current!, undefined, { renderer: "svg" });
    chart.setOption(buildOption() as any);
    return () => chart.dispose();
  }, []);
  return <div ref={ref} style={{ position: "absolute", left: 0, top: 0, width: 685, height: 665 }} />;
}
